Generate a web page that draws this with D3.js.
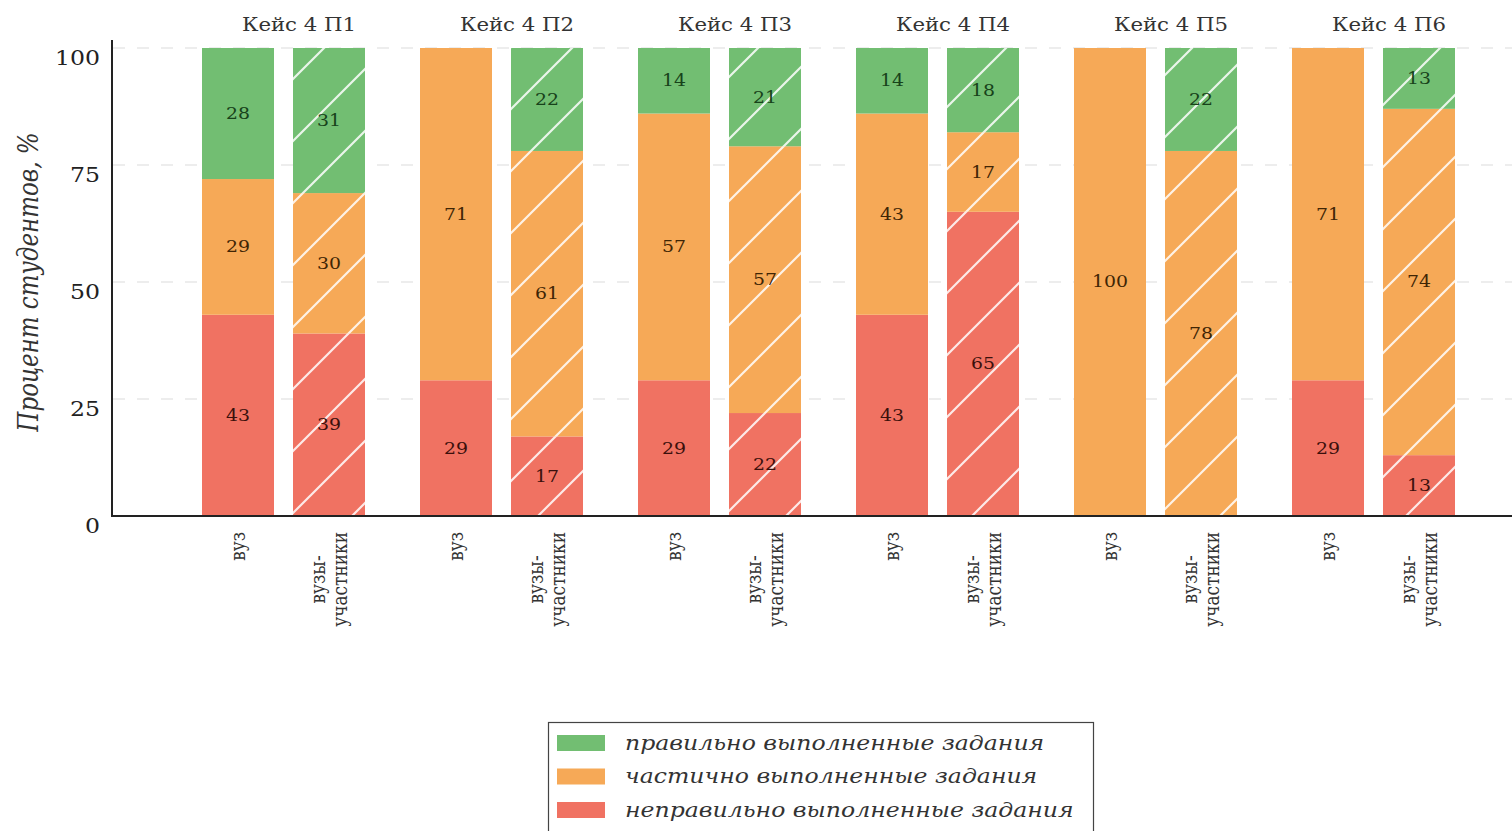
<!DOCTYPE html>
<html><head><meta charset="utf-8">
<script src="https://cdn.jsdelivr.net/npm/d3@7/dist/d3.min.js"></script>
<style>body{margin:0;background:#fff;overflow:hidden}</style>
</head><body><svg id="c" width="1512" height="831"></svg>
<script>
// ---- data ----
const cases = ["Кейс 4 П1", "Кейс 4 П2", "Кейс 4 П3", "Кейс 4 П4", "Кейс 4 П5", "Кейс 4 П6"];
const groups = ["вуз", "вузы-участники"];
const groupLabelLines = [["вуз"], ["вузы-", "участники"]];
const seriesNames = ["правильно выполненные задания", "частично выполненные задания", "неправильно выполненные задания"];
// values per case (bottom → top: неправильно, частично, правильно)
const vuzIncorrect = [43, 29, 29, 43, 0, 29];
const vuzPartial   = [29, 71, 57, 43, 100, 71];
const vuzCorrect   = [28, 0, 14, 14, 0, 0];
const partIncorrect = [39, 17, 22, 65, 0, 13];
const partPartial   = [30, 61, 57, 17, 78, 74];
const partCorrect   = [31, 22, 21, 18, 22, 13];
const yTicks = [0, 25, 50, 75, 100];

// ---- style ----
const colors = { correct: "#72be72", partial: "#f6a957", incorrect: "#f07262" };
const labelColors = { correct: "#17421a", partial: "#3f2505", incorrect: "#3b100c" };
const SX = 1.18; // horizontal text stretch seen in reference
const serif = "'DejaVu Serif', serif";

const svg = d3.select("#c");
const defs = svg.append("defs");
const pat = defs.append("pattern").attr("id", "hatch").attr("patternUnits", "userSpaceOnUse")
  .attr("width", 62).attr("height", 62);
pat.append("path").attr("d", "M-31,31 L31,-31 M0,62 L62,0 M31,93 L93,31")
  .attr("stroke", "#fff").attr("stroke-opacity", 0.85).attr("stroke-width", 2.2);

const y = d3.scaleLinear().domain([0, 100]).range([516, 48]);
const xG = d3.scaleBand().domain(cases).range([174, 1482]);
const xS = d3.scaleBand().domain(groups).range([28, 191]).paddingInner(19 / 91);

// grid
svg.append("g").selectAll("line").data(yTicks.filter(d => d > 0)).join("line")
  .attr("x1", 113).attr("x2", 1512).attr("y1", d => y(d)).attr("y2", d => y(d))
  .attr("stroke", "#dcdcdc").attr("stroke-width", 1.2).attr("stroke-dasharray", "12,12");

// bars
const rows = [];
cases.forEach((c, i) => {
  const sets = [
    [groups[0], vuzIncorrect[i], vuzPartial[i], vuzCorrect[i]],
    [groups[1], partIncorrect[i], partPartial[i], partCorrect[i]]
  ];
  sets.forEach(([g, a, b, cc]) => {
    const keys = ["incorrect", "partial", "correct"];
    const vals = [a, b, cc];
    let base = 0;
    vals.forEach((v, k) => {
      rows.push({ c, g, key: keys[k], v, y0: base, y1: base + v });
      base += v;
    });
  });
});
const segs = rows.filter(d => d.v > 0);
const gBars = svg.append("g");
gBars.selectAll("rect.bar").data(segs).join("rect").attr("class", "bar")
  .attr("x", d => xG(d.c) + xS(d.g)).attr("width", xS.bandwidth())
  .attr("y", d => y(d.y1)).attr("height", d => y(d.y0) - y(d.y1))
  .attr("fill", d => colors[d.key]);
gBars.selectAll("rect.h").data(segs.filter(d => d.g === groups[1])).join("rect").attr("class", "h")
  .attr("x", d => xG(d.c) + xS(d.g)).attr("width", xS.bandwidth())
  .attr("y", d => y(d.y1)).attr("height", d => y(d.y0) - y(d.y1))
  .attr("fill", "url(#hatch)");
gBars.selectAll("text").data(segs).join("text")
  .attr("transform", d => `translate(${xG(d.c) + xS(d.g) + xS.bandwidth() / 2},${y((d.y0 + d.y1) / 2)}) scale(${SX},1)`)
  .attr("text-anchor", "middle").attr("dominant-baseline", "central")
  .attr("font-family", serif).attr("font-size", 16).attr("fill", d => labelColors[d.key])
  .text(d => d.v);

// axes lines
svg.append("line").attr("x1", 112).attr("x2", 112).attr("y1", 40).attr("y2", 517).attr("stroke", "#222").attr("stroke-width", 2);
svg.append("line").attr("x1", 111).attr("x2", 1512).attr("y1", 516).attr("y2", 516).attr("stroke", "#222").attr("stroke-width", 2);

// y tick labels
svg.append("g").selectAll("text").data(yTicks).join("text")
  .attr("transform", d => `translate(100,${y(d) + 10}) scale(${SX},1)`)
  .attr("text-anchor", "end").attr("dominant-baseline", "central")
  .attr("font-family", serif).attr("font-size", 20).attr("fill", "#222")
  .text(d => d);

// y axis title
svg.append("text")
  .attr("transform", `translate(38,${y(50)}) scale(${SX},1) rotate(-90)`)
  .attr("text-anchor", "middle").attr("font-family", serif).attr("font-style", "italic")
  .attr("font-size", 23).attr("fill", "#333").text("Процент студентов, %");

// case titles
svg.append("g").selectAll("text").data(cases).join("text")
  .attr("transform", d => `translate(${xG(d) + xG.bandwidth() / 2 + 16},25) scale(${SX},1)`)
  .attr("text-anchor", "middle").attr("dominant-baseline", "central")
  .attr("font-family", serif).attr("font-size", 18).attr("fill", "#333").text(d => d);

// x labels (rotated)
const xl = [];
cases.forEach(c => groups.forEach((g, gi) => xl.push({ c, g, lines: groupLabelLines[gi] })));
const xlg = svg.append("g").selectAll("g").data(xl).join("g")
  .attr("transform", d => `translate(${xG(d.c) + xS(d.g) + xS.bandwidth() / 2},532) scale(${SX},1) rotate(-90)`);
xlg.each(function (d) {
  const g = d3.select(this);
  const n = d.lines.length;
  const lh = 18;
  const fs = 17;
  if (n === 1) {
    g.append("text").attr("x", 0).attr("y", 0).attr("text-anchor", "end").attr("dominant-baseline", "central")
      .attr("font-family", serif).attr("font-size", fs).attr("fill", "#333").text(d.lines[0]);
  } else {
    // measure longest line to center shorter line in the block
    const t2 = g.append("text").attr("x", 0).attr("y", lh / 2).attr("text-anchor", "end").attr("dominant-baseline", "central")
      .attr("font-family", serif).attr("font-size", fs).attr("fill", "#333").text(d.lines[1]);
    const w = t2.node().getComputedTextLength();
    g.append("text").attr("x", -w / 2).attr("y", -lh / 2).attr("text-anchor", "middle").attr("dominant-baseline", "central")
      .attr("font-family", serif).attr("font-size", fs).attr("fill", "#333").text(d.lines[0]);
  }
});

// legend
const lg = svg.append("g");
lg.append("rect").attr("x", 548.5).attr("y", 722.5).attr("width", 545).attr("height", 130)
  .attr("fill", "#fff").attr("stroke", "#444").attr("stroke-width", 1.2);
const legendKeys = ["correct", "partial", "incorrect"];
const ly = d3.scalePoint().domain(seriesNames).range([743, 810]);
lg.selectAll("rect.sw").data(seriesNames).join("rect").attr("class", "sw")
  .attr("x", 557).attr("y", d => ly(d) - 8).attr("width", 48).attr("height", 16)
  .attr("fill", (d, i) => colors[legendKeys[i]]);
lg.selectAll("text").data(seriesNames).join("text")
  .attr("transform", d => `translate(625,${ly(d)}) scale(${SX},1)`)
  .attr("dominant-baseline", "central").attr("font-family", serif).attr("font-style", "italic")
  .attr("font-size", 20).attr("fill", "#333").text(d => d);
</script></body></html>
